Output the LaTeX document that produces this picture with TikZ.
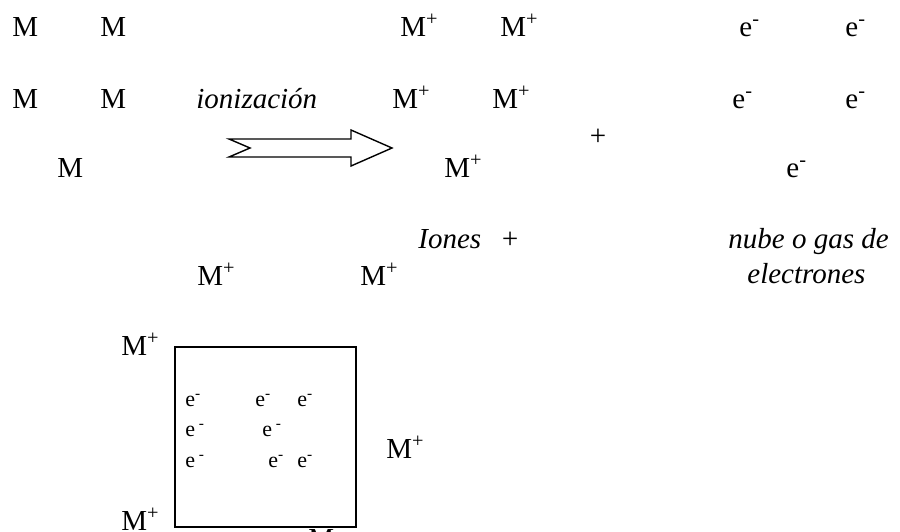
\documentclass[tikz,border=0pt]{standalone}
\usepackage{fontspec}
\setmainfont{Liberation Serif}
\newfontfamily\tms{Liberation Serif}
\newcommand{\ionM}{M\textsuperscript{+}}
\newcommand{\elc}{e\textsuperscript{-}}
\newcommand{\elcsp}{e\,\textsuperscript{-}}
\begin{document}
\begin{tikzpicture}[x=0.5pt, y=-0.5pt,
  every node/.style={inner sep=0pt, anchor=base west, font=\tms\fontsize{14.5}{17}\selectfont},
  lbl/.style={font=\tms\fontsize{14.5}{17}\selectfont\itshape},
  inbox/.style={font=\tms\fontsize{11}{13}\selectfont},
  arrowline/.style={draw, line width=0.7pt, line join=miter},
  boxline/.style={draw, line width=0.6pt}
]
\useasboundingbox (0,0) rectangle (900,531);
\clip (0,0) rectangle (900,531);

% Atomos neutros
\node (A1) at (12,36) {M};
\node (A2) at (100,36) {M};
\node (A3) at (12,108) {M};
\node (A4) at (100,108) {M};
\node (A5) at (57,177) {M};

% Flecha de ionizacion
\node[lbl] (ioniz) at (196,108) {ionización};
\draw[arrowline] (229,139) -- (351,139) -- (351,130) -- (392,148)
  -- (351,166) -- (351,157) -- (229,157) -- (250,148) -- cycle;

% Iones
\node (I1) at (400,36) {\ionM};
\node (I2) at (500,36) {\ionM};
\node (I3) at (392,108) {\ionM};
\node (I4) at (492,108) {\ionM};
\node (I5) at (444,177) {\ionM};
\node[anchor=center] (plus) at (598,137) {+};

% Electrones
\node (E1) at (739,36) {\elc};
\node (E2) at (845,36) {\elc};
\node (E3) at (732,108) {\elc};
\node (E4) at (845,108) {\elc};
\node (E5) at (786,177) {\elc};

% Leyendas
\node[lbl] (iones) at (418,248) {Iones\hspace{0.65em}+};
\node[lbl] (nube) at (728,248) {nube o gas de};
\node[lbl] (electr) at (747,283) {electrones};

% Modelo: iones y nube de electrones
\node (R1) at (197,285) {\ionM};
\node (R2) at (360,285) {\ionM};
\node (R3) at (121,355) {\ionM};
\node (R4) at (386,458) {\ionM};
\node (R5) at (121,530) {\ionM};
\node (R6) at (308,548) {M};

\draw[boxline] (175,347) rectangle (356,527);
\node[inbox] (B1) at (185,406) {\elc};
\node[inbox] (B2) at (255,406) {\elc};
\node[inbox] (B3) at (297,406) {\elc};
\node[inbox] (B4) at (185,436) {\elcsp};
\node[inbox] (B5) at (262,436) {\elcsp};
\node[inbox] (B6) at (185,467) {\elcsp};
\node[inbox] (B7) at (268,467) {\elc};
\node[inbox] (B8) at (297,467) {\elc};

\end{tikzpicture}
\end{document}
